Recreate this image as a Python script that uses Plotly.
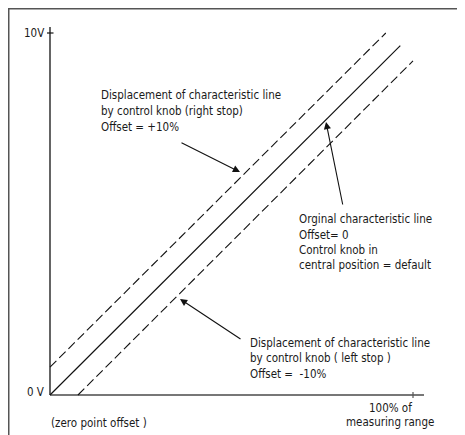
import plotly.graph_objects as go

# ---- data (x: % of measuring range, y: output voltage in V) ----
orig_x = [0, 96.5]
orig_y = [0, 9.65]
right_stop_x = [0, 92.5]
right_stop_y = [0.77, 10.0]
left_stop_x = [7.7, 100]
left_stop_y = [0, 9.23]

y_tick_vals = [0, 10]
y_tick_labels = ["0 V", "10V"]
x_tick_vals = [100]
x_tick_labels = ["100% of", "measuring range"]

OFF = 8  # page body margin
W, H = 465, 435  # figure slightly overflows the window; the overflow is clipped
# pixel mapping (page px): x_px = 50 + x*3.63 ; y_px = 395 - y*36.2
X0, XS = 50.0 - OFF, 3.63
Y0, YS = 395.0 - OFF, 36.2
x_range = [(0 - X0) / XS, (W - X0) / XS]
y_range = [(Y0 - H) / YS, (Y0 - 0) / YS]

FONT = "DejaVu Sans Condensed"
FS = 11.5
TXT = "#1a1a1a"


def px(x):
    return (x - OFF) / W


def py(y):
    return 1 - (y - OFF) / H


def dx(p):
    return (p - OFF - X0) / XS


def dy(p):
    return (Y0 - (p - OFF)) / YS


fig = go.Figure()

# axes (drawn as lines)
fig.add_trace(go.Scatter(x=[0, 0], y=[0, dy(27)], mode="lines",
                         line=dict(color="#111", width=1.3), hoverinfo="skip"))
fig.add_trace(go.Scatter(x=[0, dx(424)], y=[0, 0], mode="lines",
                         line=dict(color="#777", width=2), hoverinfo="skip"))
# tick marks
fig.add_trace(go.Scatter(x=[-3 / XS, 3.5 / XS], y=[y_tick_vals[1]] * 2, mode="lines",
                         line=dict(color="#111", width=1.2), hoverinfo="skip"))
fig.add_trace(go.Scatter(x=[x_tick_vals[0]] * 2, y=[-3 / YS, 3 / YS], mode="lines",
                         line=dict(color="#555", width=1.2), hoverinfo="skip"))

# characteristic lines
fig.add_trace(go.Scatter(x=orig_x, y=orig_y, mode="lines",
                         line=dict(color="#111", width=1.2), hoverinfo="skip"))
fig.add_trace(go.Scatter(x=right_stop_x, y=right_stop_y, mode="lines",
                         line=dict(color="#111", width=1.1, dash="9px,4px"), hoverinfo="skip"))
fig.add_trace(go.Scatter(x=left_stop_x, y=left_stop_y, mode="lines",
                         line=dict(color="#111", width=1.1, dash="9px,4px"), hoverinfo="skip"))

ann = []


def text(s, x, y, xanchor="left"):
    ann.append(dict(text=s, x=px(x), y=py(y), xref="paper", yref="paper",
                    xanchor=xanchor, yanchor="middle", showarrow=False,
                    font=dict(family=FONT, size=FS, color=TXT)))


text(y_tick_labels[1], 46, 33, "right")
text(y_tick_labels[0], 46, 392, "right")
text("(zero point offset )", 49, 423)
text(x_tick_labels[0], 390, 408, "center")
text(x_tick_labels[1], 390, 422, "center")

for i, s in enumerate(["Displacement of characteristic line",
                       "by control knob (right stop)",
                       "Offset = +10%"]):
    text(s, 99, [95, 111, 127][i])

for i, s in enumerate(["Orginal characteristic line",
                       "Offset= 0",
                       "Control knob in",
                       "central position = default"]):
    text(s, 297, [219, 235, 250, 265][i])

for i, s in enumerate(["Displacement of characteristic line",
                       "by control knob ( left stop )",
                       "Offset =  -10%"]):
    text(s, 248, [343, 358, 374][i])


def arrow(tip, tail):
    ann.append(dict(text="", x=px(tip[0]), y=py(tip[1]), xref="paper", yref="paper",
                    ax=tail[0] - tip[0], ay=tail[1] - tip[1],
                    showarrow=True, arrowhead=2, arrowsize=1.3, arrowwidth=1.1,
                    arrowcolor="#111"))


arrow((240, 172), (180, 142))
arrow((326, 122), (343, 206))
arrow((180, 299), (242, 340))

fig.update_layout(
    width=W, height=H, margin=dict(l=0, r=0, t=0, b=0),
    paper_bgcolor="white", plot_bgcolor="white", showlegend=False,
    xaxis=dict(range=x_range, visible=False, fixedrange=True),
    yaxis=dict(range=y_range, visible=False, fixedrange=True),
    annotations=ann,
    shapes=[
        dict(type="line", xref="paper", yref="paper", x0=0, x1=1.01, y0=py(8.75), y1=py(8.75),
             line=dict(color="#555", width=1.5)),
        dict(type="line", xref="paper", yref="paper", x0=px(8.75), x1=px(8.75), y0=py(8), y1=-0.01,
             line=dict(color="#555", width=1.5)),
    ],
)

fig.write_html("out.html")
